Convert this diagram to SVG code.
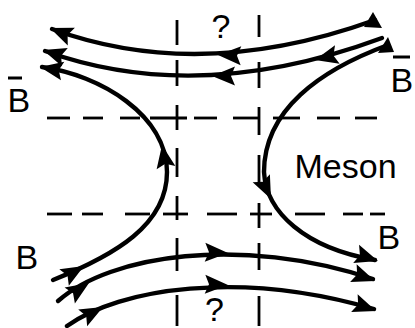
<svg xmlns="http://www.w3.org/2000/svg" xmlns:xlink="http://www.w3.org/1999/xlink" width="415" height="328" viewBox="0 0 415 328">
<style>
.bg{fill:#fff}
.dash line{stroke:#000;stroke-width:2.8;stroke-linecap:butt}
.curve{fill:none;stroke:#000;stroke-width:4.4;stroke-linecap:round}
.lbl{font-family:"Liberation Sans",Arial,sans-serif;font-size:34px;fill:#000}
.bar{stroke:#000;stroke-width:3}
.ah{fill:#000}
</style>
<defs>
<path id="ah" d="M0,0 L-23,-9.5 L-19,0 L-23,9.5 Z"/>
</defs>
<rect class="bg" x="0" y="0" width="415" height="328"/>
<g id="grid" class="dash">
<line x1="177" y1="20" x2="177" y2="45"/><line x1="177" y1="60" x2="177" y2="86"/><line x1="177" y1="105" x2="177" y2="130"/><line x1="177" y1="148" x2="177" y2="177"/><line x1="177" y1="196" x2="177" y2="220"/><line x1="177" y1="238" x2="177" y2="271"/><line x1="177" y1="295" x2="177" y2="326"/>
<line x1="259" y1="15" x2="259" y2="37"/><line x1="259" y1="62" x2="259" y2="88"/><line x1="259" y1="107" x2="259" y2="135"/><line x1="259" y1="155" x2="259" y2="182"/><line x1="259" y1="203" x2="259" y2="228"/><line x1="259" y1="243" x2="259" y2="270"/><line x1="259" y1="296" x2="259" y2="326"/>
<line x1="47" y1="118" x2="70" y2="118"/><line x1="83" y1="118" x2="103" y2="118"/><line x1="120" y1="118" x2="140" y2="118"/><line x1="150" y1="118" x2="187" y2="118"/><line x1="194" y1="118" x2="217" y2="118"/><line x1="233" y1="118" x2="259" y2="118"/><line x1="273" y1="118" x2="300" y2="118"/><line x1="317" y1="118" x2="340" y2="118"/><line x1="355" y1="118" x2="377" y2="118"/>
<line x1="47" y1="214" x2="72" y2="214"/><line x1="82" y1="214" x2="103" y2="214"/><line x1="125" y1="214" x2="150" y2="214"/><line x1="163" y1="214" x2="188" y2="214"/><line x1="207" y1="214" x2="237" y2="214"/><line x1="250" y1="214" x2="272" y2="214"/><line x1="295" y1="214" x2="325" y2="214"/><line x1="343" y1="214" x2="363" y2="214"/><line x1="370" y1="214" x2="385" y2="214"/>
</g>
<g id="connectors">
<path class="curve" d="M52,29 Q200,83 375,20"/>
<path class="curve" d="M45,51 Q198,106 382,38"/>
<path class="curve" d="M42,67 C100,75 167,115 167,172 C167,225 115,255 53,280"/>
<path class="curve" d="M388,45 C320,70 264,110 264,172 C266,212 305,248 375,260"/>
<path class="curve" d="M58,301 C110,255 240,235 373,279"/>
<path class="curve" d="M67,326 C120,288 240,270 374,309"/>
<g class="ah">
<use xlink:href="#ah" transform="translate(50,28) rotate(202)"/>
<use xlink:href="#ah" transform="translate(43,50) rotate(198)"/>
<use xlink:href="#ah" transform="translate(40,67) rotate(190)"/>
<use xlink:href="#ah" transform="translate(218,55) rotate(182)"/>
<use xlink:href="#ah" transform="translate(212,76) rotate(180)"/>
<use xlink:href="#ah" transform="translate(315,60) rotate(166)"/>
<use xlink:href="#ah" transform="translate(162,145) rotate(-100)"/>
<use xlink:href="#ah" transform="translate(271,199) rotate(65)"/>
<use xlink:href="#ah" transform="translate(84,266) rotate(-30)"/>
<use xlink:href="#ah" transform="translate(89,283) rotate(-33)"/>
<use xlink:href="#ah" transform="translate(103,307) rotate(-28)"/>
<use xlink:href="#ah" transform="translate(228,253) rotate(2)"/>
<use xlink:href="#ah" transform="translate(228,285) rotate(2)"/>
<use xlink:href="#ah" transform="translate(378,261) rotate(18)"/>
<use xlink:href="#ah" transform="translate(375,281) rotate(20)"/>
<use xlink:href="#ah" transform="translate(376,311) rotate(20)"/>
<polygon points="373,12 382,28 364,27"/>
<polygon points="388,37 394,52 378,53"/>
</g>
</g>
<g id="label-Bbar-left">
<line class="bar" x1="8" y1="78" x2="22" y2="78"/>
<text class="lbl" x="7.5" y="112">B</text>
</g>
<g id="label-Bbar-right">
<line class="bar" x1="393" y1="57" x2="410" y2="57"/>
<text class="lbl" x="390.5" y="92">B</text>
</g>
<g id="label-meson"><text class="lbl" x="294.5" y="178">Meson</text></g>
<g id="label-B-right"><text class="lbl" x="377.5" y="249">B</text></g>
<g id="label-B-left"><text class="lbl" x="15.5" y="269">B</text></g>
<g id="label-q-top"><text class="lbl" x="221" y="38" text-anchor="middle">?</text></g>
<g id="label-q-bottom"><text class="lbl" x="214.5" y="321" text-anchor="middle">?</text></g>
</svg>
